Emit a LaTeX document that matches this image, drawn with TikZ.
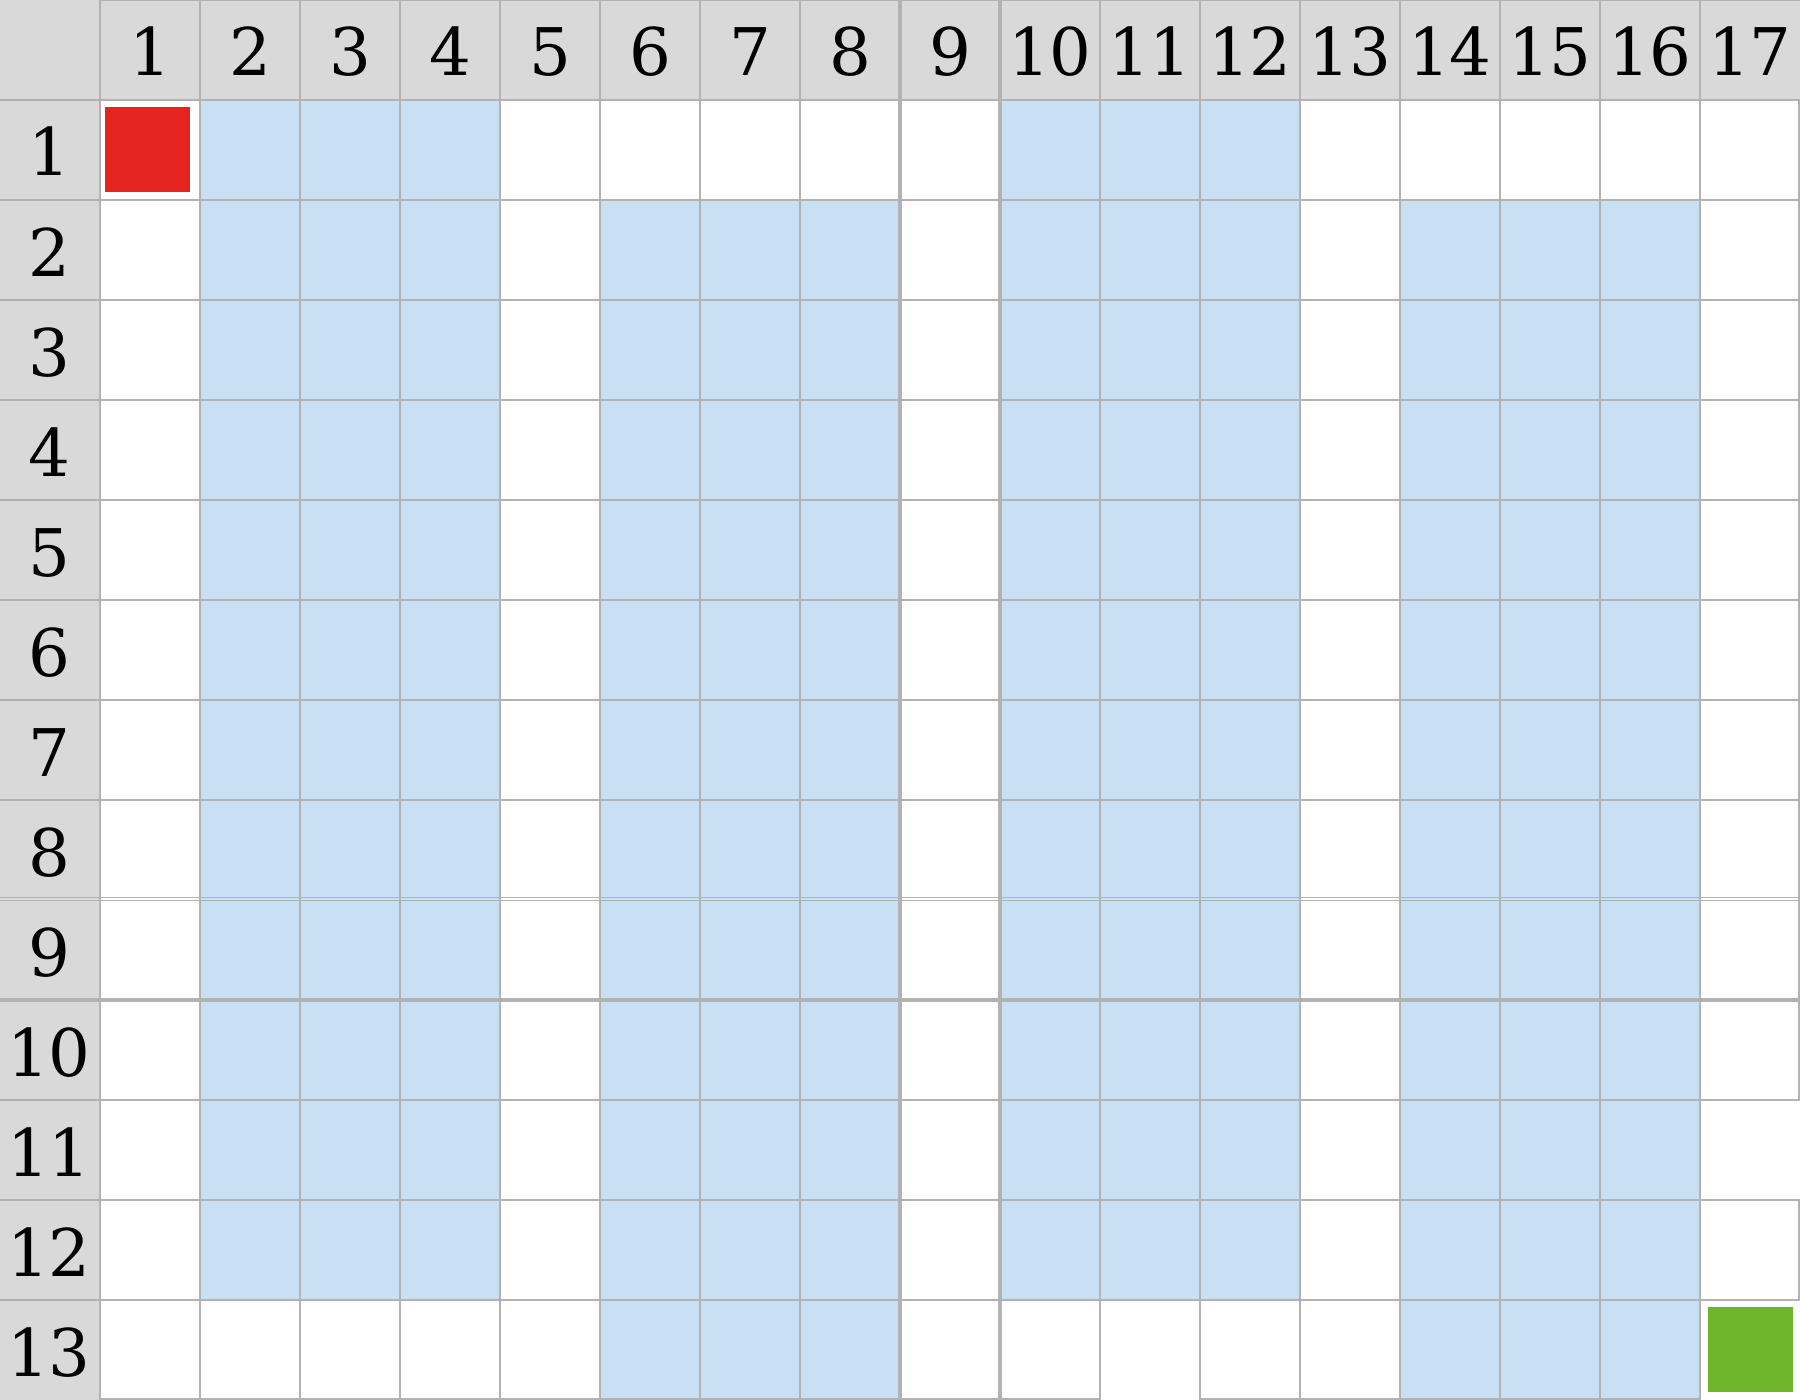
\documentclass[tikz,border=0pt]{standalone}
\usepackage{fontspec}
\setmainfont{DejaVu Serif}
\definecolor{hdrgray}{RGB}{217,217,217}
\definecolor{cellblue}{RGB}{201,223,244}
\definecolor{gridgray}{RGB}{178,178,178}
\definecolor{startred}{RGB}{227,36,33}
\definecolor{goalgreen}{RGB}{110,181,44}
\tikzset{
  gridline/.style={draw=gridgray, line width=0.55pt},
  heavyline/.style={draw=gridgray, line width=0.95pt},
  lbl/.style={anchor=base, inner sep=0pt, font=\fontsize{18.7}{19}\selectfont, text=black},
  marker/.style={inner sep=0pt, minimum size=0.85cm, draw=none},
}
\begin{document}
\begin{tikzpicture}[x=1cm,y=-1cm]
\useasboundingbox (0,0) rectangle (18,14);
\fill[white] (0,0) rectangle (18,14);
% header fills
\fill[hdrgray] (0,0) rectangle (18,1);
\fill[hdrgray] (0,0) rectangle (1,14);
% blue columns
\fill[cellblue] (2,1) rectangle (5,13);
\fill[cellblue] (6,2) rectangle (9,14);
\fill[cellblue] (10,1) rectangle (13,13);
\fill[cellblue] (14,2) rectangle (17,14);
% start / goal markers
\node[marker, fill=startred] (start) at (1.475,1.495) {};
\node[marker, fill=goalgreen] (goal) at (17.505,13.495) {};
% vertical grid lines
\foreach \x in {1,...,8,11,12,...,17}
  \draw[gridline] (\x,0) -- (\x,14);
\foreach \x in {9,10}
  \draw[heavyline] (\x,0) -- (\x,14);
\draw[gridline] (17.99,1) -- (17.99,11);
\draw[gridline] (17.99,12) -- (17.99,13);
% horizontal grid lines
\foreach \y in {1,...,8,11,12,13}
  \draw[gridline] (0,\y) -- (18,\y);
\draw[gridline] (0,8.975) -- (18,8.975);
\draw[gridline] (0,9.005) -- (18,9.005);
\draw[heavyline] (0,10) -- (18,10);
\draw[gridline] (1,0.005) -- (18,0.005);
\draw[gridline] (1,13.99) -- (11,13.99);
\draw[gridline] (12,13.99) -- (17,13.99);
% column headers
\foreach \c in {1,...,17}
  \node[lbl] (col\c) at (\c+0.5,0.75) {\c};
% row headers
\foreach \r in {1,...,13}
  \node[lbl] (row\r) at (0.49,\r+0.76) {\r};
\end{tikzpicture}
\end{document}
